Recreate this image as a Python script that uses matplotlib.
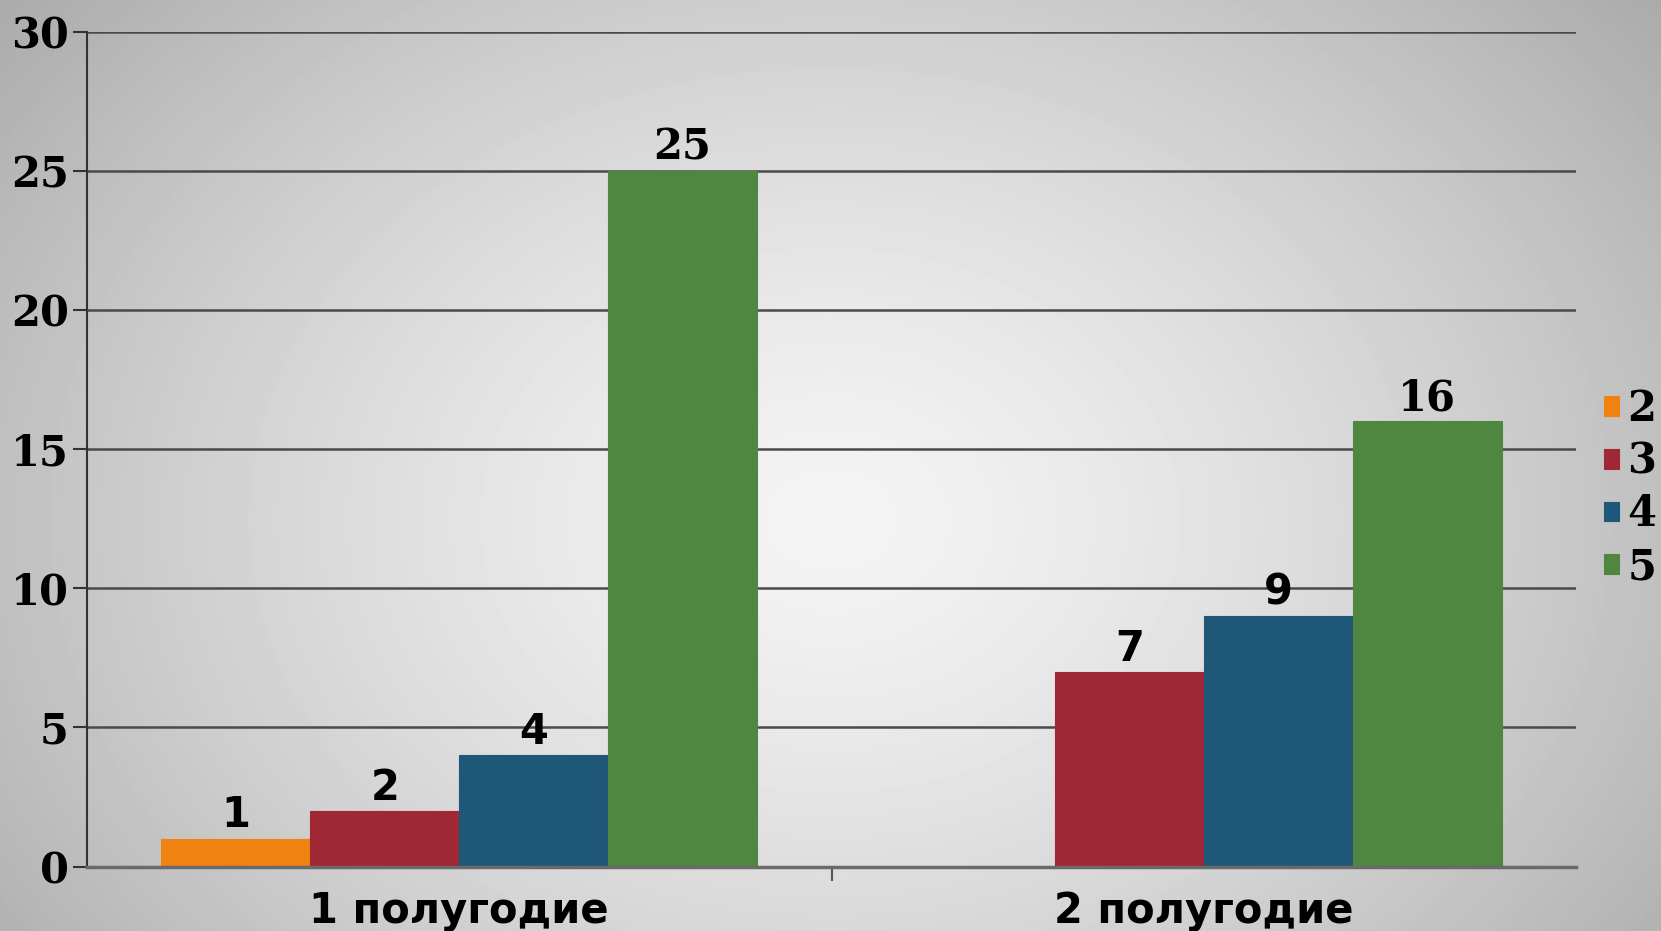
import numpy as np
import matplotlib
matplotlib.use("Agg")
import matplotlib.pyplot as plt

categories = ["1 полугодие", "2 полугодие"]
series_names = ["2", "3", "4", "5"]
values = {
    "2": [1, np.nan],
    "3": [2, 7],
    "4": [4, 9],
    "5": [25, 16],
}
colors = ["#EF8210", "#A02734", "#1F5778", "#4F8640"]
yticks = [0, 5, 10, 15, 20, 25, 30]

W, H = 1661, 931
fig = plt.figure(figsize=(W / 100, H / 100), dpi=100)

# radial gradient background
bg = fig.add_axes([0, 0, 1, 1], zorder=-10)
yy, xx = np.mgrid[0:H, 0:W]
cx, cy = 830, 520
r = np.sqrt(((xx - cx) / 900.0) ** 2 + ((yy - cy) / 700.0) ** 2)
r = np.clip(r / 1.25, 0, 1)
val = 0.955 - 0.31 * r ** 1.4
bg.imshow(val, cmap="gray", vmin=0, vmax=1, aspect="auto", interpolation="bilinear")
bg.axis("off")

ax = fig.add_axes([87 / W, (H - 866.5) / H, (1576 - 87) / W, (866.5 - 31.8) / H])
ax.patch.set_alpha(0)

n = len(series_names)
width = 0.2
x = np.arange(len(categories))
for i, (name, c) in enumerate(zip(series_names, colors)):
    v = np.array(values[name], dtype=float)
    pos = x + (i - (n - 1) / 2) * width
    ax.bar(pos, v, width=width, color=c, edgecolor=c, linewidth=0.8,
           label=name, zorder=3)
    for p, h in zip(pos, v):
        if np.isnan(h):
            continue
        fam = "DejaVu Serif" if h >= 10 else "DejaVu Sans"
        ax.text(p, h + 0.08, f"{int(h)}", ha="center", va="bottom",
                fontsize=30, fontweight="bold", family=fam, color="black", zorder=4)

ax.set_xlim(-0.5, 1.5)
ax.set_ylim(0, 30)
ax.set_yticks(yticks)
ax.set_yticklabels([str(t) for t in yticks], family="DejaVu Serif",
                   fontweight="bold", fontsize=30)
ax.yaxis.grid(True, color="#4a4a4a", linewidth=1.8, zorder=1)
ax.set_axisbelow(True)

ax.set_xticks([0.5], minor=False)
ax.set_xticklabels([""])
ax.tick_params(axis="x", which="major", length=10, width=1.5, color="#555555")
for xi, cat in zip(x, categories):
    ax.text(xi, -0.053, cat, transform=ax.get_xaxis_transform(), ha="center", va="center",
            fontsize=30, fontweight="bold", family="DejaVu Sans")

ax.tick_params(axis="y", length=10, width=1.5, color="#333333", pad=3)
for s in ["top", "right"]:
    ax.spines[s].set_visible(False)
ax.spines["left"].set_color("#333333")
ax.spines["left"].set_linewidth(1.5)
ax.spines["bottom"].set_color("#6a6a6a")
ax.spines["bottom"].set_linewidth(2.5)
ax.spines["bottom"].set_zorder(5)

leg = ax.legend(loc="center left", bbox_to_anchor=(1604 / W, (H - 488) / H),
                bbox_transform=fig.transFigure, frameon=False,
                prop={"family": "DejaVu Serif", "weight": "bold", "size": 30},
                handlelength=0.36, handleheight=0.36, handletextpad=0.2,
                labelspacing=0.26, borderpad=0, borderaxespad=0)

fig.savefig("out.png", dpi=100)
